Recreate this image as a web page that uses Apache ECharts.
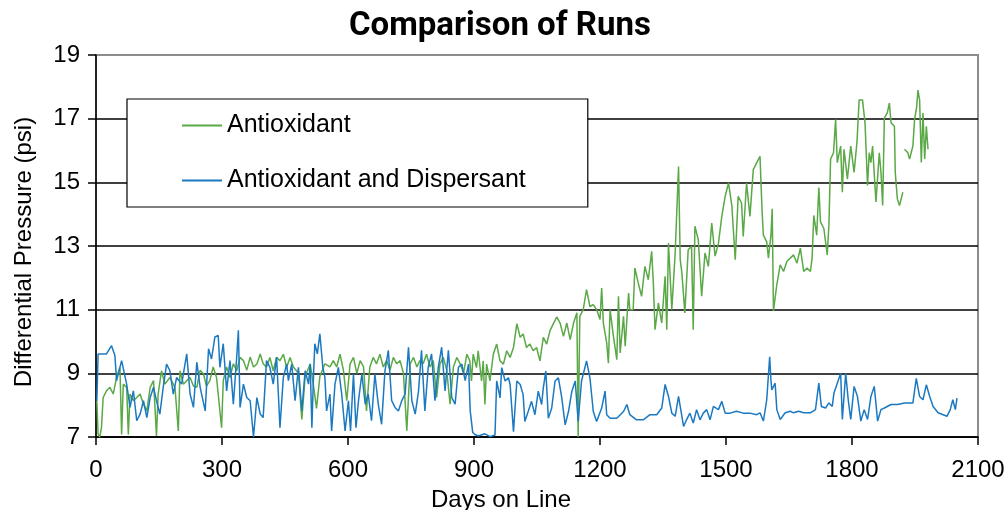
<!DOCTYPE html>
<html lang="en">

<head>
    <meta charset="UTF-8">
    <title>Comparison of Runs</title>
    <style>
        * {
            margin: 0;
            padding: 0;
        }

        #chart {
            width: 1008px;
            height: 510px;
        }
    </style>
</head>

<body>
    <div id="chart"></div>
</body>

</html>
<script src="https://cdn.jsdelivr.net/npm/echarts/dist/echarts.min.js"></script>
<script>

    // [days on line, differential pressure psi]
    const antioxidant = [
        [2, 8.14], [5, 7.08], [9, 7.0], [13, 7.29], [17, 8.24], [25, 8.45], [33, 8.56], [41, 8.35], [49, 8.87],
        [57, 9.19], [61, 7.08], [65, 8.66], [73, 8.56], [77, 7.08], [81, 8.35], [89, 8.14], [97, 8.24],
        [105, 8.35], [113, 8.03], [121, 7.82], [129, 8.56], [137, 8.77], [144, 7.03], [148, 8.35], [156, 9.08],
        [164, 8.66], [176, 8.87], [188, 8.56], [196, 7.19], [200, 9.08], [208, 8.66], [216, 8.77], [224, 8.87],
        [232, 8.6], [240, 8.56], [248, 9.1], [256, 8.98], [263, 8.6], [271, 8.77], [279, 9.2], [287, 8.87],
        [299, 7.29], [303, 8.77], [311, 9.2], [319, 8.87], [327, 9.3], [335, 9.08], [343, 9.5], [351, 9.40],
        [359, 9.1], [367, 9.51], [375, 9.2], [383, 9.29], [391, 9.61], [398, 9.3], [406, 9.19], [414, 9.5],
        [422, 9.08], [430, 9.5], [438, 9.40], [446, 9.6], [454, 9.19],
        [462, 9.5], [470, 9.2], [482, 9.0], [490, 7.55], [498, 8.9], [510, 9.3], [518, 8.6], [525, 7.9],
        [533, 8.9], [545, 9.3], [557, 9.2], [565, 9.4], [573, 9.2], [581, 9.6], [589, 9.1], [597, 8.14],
        [605, 9.3], [613, 9.5], [621, 9.0], [629, 9.4], [637, 9.2], [644, 7.82], [652, 9.2], [660, 9.5],
        [668, 9.3], [676, 9.6], [684, 9.2], [692, 9.4], [700, 9.1], [708, 9.5], [716, 9.3], [724, 9.4],
        [732, 9.0], [740, 7.2], [748, 9.3], [756, 9.5], [764, 9.2], [771, 9.4], [779, 9.3], [787, 9.6],
        [795, 9.2], [803, 9.4], [811, 8.24], [819, 9.3], [827, 9.5], [835, 9.1], [843, 8.03], [851, 9.2],
        [859, 9.5], [867, 9.3], [875, 9.0], [883, 9.6], [890, 9.4],
        [894, 8.76], [898, 9.60], [906, 9.18], [910, 9.71], [918, 8.76], [922, 9.39], [926, 8.02], [930, 9.29],
        [938, 8.76], [946, 9.60], [954, 9.92], [962, 9.39], [970, 9.29], [978, 9.71], [986, 9.50], [994, 9.81],
        [1002, 10.56], [1010, 10.13], [1017, 10.24], [1025, 9.81], [1033, 9.92], [1041, 9.71], [1049, 9.81],
        [1057, 9.39], [1065, 10.13], [1073, 9.92], [1081, 10.34], [1089, 10.56], [1097, 10.77],
        [1105, 10.58], [1113, 10.16], [1121, 10.58], [1129, 10.06], [1137, 10.58], [1145, 10.90], [1148, 7.0],
        [1152, 10.79], [1160, 11.0], [1168, 11.63], [1176, 11.10], [1184, 11.16], [1192, 11.0], [1200, 10.69],
        [1204, 11.68], [1208, 10.58], [1216, 9.95], [1220, 9.32], [1224, 11.0], [1232, 10.16], [1240, 9.43],
        [1244, 11.42], [1248, 9.64], [1256, 10.79], [1260, 9.85], [1268, 11.52], [1271, 11.0], [1279, 11.0],
        [1283, 12.31], [1291, 11.84], [1299, 11.42], [1307, 12.36], [1315, 11.94], [1323, 12.83], [1327, 11.84],
        [1331, 10.37], [1339, 11.21], [1347, 10.58], [1355, 12.05], [1359, 10.37], [1363, 13.09], [1371, 11.0],
        [1379, 12.78], [1387, 15.50], [1391, 12.57], [1395, 12.15], [1402, 10.90], [1410, 12.88], [1418, 12.99],
        [1422, 10.37], [1426, 13.62], [1434, 13.20], [1442, 11.42], [1450, 12.78], [1458, 12.36], [1466, 13.72],
        [1474, 12.68], [1482, 13.09], [1490, 13.93], [1498, 14.56], [1506, 14.98], [1514, 14.25], [1522, 12.57],
        [1529, 14.56], [1537, 14.35], [1541, 13.30], [1549, 14.98], [1557, 13.93], [1565, 15.40], [1573, 15.61],
        [1581, 15.82], [1583, 15.10], [1586, 14.07], [1589, 13.34], [1597, 13.13], [1601, 12.62], [1607, 13.34],
        [1610, 14.17], [1613, 10.96], [1621, 11.79], [1629, 12.41], [1637, 12.20], [1645, 12.51], [1653, 12.62],
        [1661, 12.72], [1669, 12.46], [1677, 12.93], [1685, 12.20], [1693, 12.31], [1701, 12.20], [1705, 12.62],
        [1709, 13.96], [1716, 13.34], [1721, 14.84], [1725, 13.76], [1733, 13.55], [1741, 12.72], [1745, 13.65],
        [1749, 15.73], [1756, 15.93], [1761, 16.97], [1765, 15.62], [1773, 16.14], [1777, 14.69], [1781, 16.04],
        [1789, 15.10], [1797, 16.14], [1805, 15.31], [1812, 16.30], [1817, 17.59], [1825, 17.59], [1831, 16.87],
        [1837, 14.90], [1841, 15.93], [1845, 15.62], [1849, 16.14], [1857, 14.38], [1865, 15.93], [1869, 15.31],
        [1873, 14.27], [1877, 17.02], [1884, 17.18], [1889, 17.49], [1893, 16.87], [1901, 16.76], [1903, 15.31],
        [1908, 14.48], [1913, 14.27], [1921, 14.69], [1923, null],
        [1925, 16.04], [1933, 15.93], [1937, 15.73], [1941, 15.78], [1945, 16.14], [1949, 16.97], [1954, 17.38],
        [1957, 17.90], [1961, 17.59], [1965, 15.62], [1969, 17.18], [1973, 15.73], [1977, 16.76], [1981, 16.04]
    ];

    const dispersant = [
        [2, 8.14], [5, 9.61], [25, 9.61], [37, 9.87], [45, 9.56], [49, 8.77], [61, 9.40], [65, 9.45], [73, 8.66],
        [81, 7.93], [89, 8.45], [97, 7.51], [105, 7.72], [113, 8.14], [121, 7.61], [129, 8.24], [137, 8.56],
        [144, 8.14], [152, 7.72], [160, 8.56], [168, 9.29], [176, 9.08], [184, 8.35], [192, 8.87], [204, 8.66],
        [216, 9.61], [224, 8.35], [232, 7.93], [240, 9.35], [248, 8.56], [260, 7.82], [268, 9.77], [275, 9.45],
        [283, 10.14], [291, 10.19], [295, 9.19], [303, 9.93], [311, 8.45], [319, 9.40], [327, 8.03], [335, 9.51],
        [339, 10.35], [343, 7.93], [351, 8.66], [359, 8.24], [367, 8.14], [375, 7.0], [383, 8.24], [391, 7.72],
        [398, 7.61], [406, 9.40], [414, 9.19], [422, 8.66], [430, 9.51], [438, 7.29], [446, 8.87], [454, 9.29],
        [458, 8.77], [466, 9.29], [474, 8.14], [482, 9.19], [490, 7.82], [498, 9.08], [506, 8.66], [510, 9.29],
        [514, 7.29], [518, 8.98], [521, 9.93], [527, 9.61], [533, 10.24], [540, 9.19], [545, 8.87], [549, 7.82],
        [557, 8.35], [561, 7.19], [569, 8.66], [577, 9.19], [585, 8.35], [593, 7.19], [601, 8.14], [606, 7.19],
        [613, 8.98], [619, 7.29], [625, 8.14], [633, 8.98], [641, 8.03], [648, 8.35], [656, 7.51], [664, 8.98],
        [672, 8.03], [680, 7.40], [688, 9.08], [696, 9.72], [704, 8.14], [712, 7.93], [720, 7.82], [728, 8.14],
        [736, 8.35], [744, 9.82], [752, 8.14], [760, 7.72], [768, 8.45], [775, 9.72], [783, 7.82], [791, 9.19],
        [799, 9.61], [807, 8.14], [815, 9.19], [823, 9.82], [831, 8.45], [839, 9.72], [847, 8.24], [855, 8.03],
        [863, 9.19], [871, 9.29], [879, 8.77], [887, 9.29], [891, 7.82], [897, 7.14], [902, 7.08], [910, 7.03],
        [914, 7.01], [926, 7.1], [938, 7.01], [950, 7.06], [954, 8.76], [962, 8.23], [966, 9.18], [974, 8.76],
        [982, 8.86], [986, 8.65], [990, 7.91], [994, 7.17], [1002, 8.76], [1010, 8.65], [1017, 8.33], [1021, 7.49],
        [1029, 7.80], [1037, 8.12], [1045, 7.70], [1053, 8.44], [1061, 8.02], [1065, 8.54], [1071, 9.07],
        [1077, 7.59], [1085, 7.91], [1093, 8.76], [1101, 8.86], [1109, 8.23], [1117, 7.38], [1125, 7.80],
        [1133, 8.44], [1141, 8.76], [1148, 7.49], [1156, 8.76], [1164, 9.18], [1168, 9.39], [1176, 8.86],
        [1184, 7.80], [1192, 7.49], [1204, 7.91], [1212, 8.44], [1216, 7.70], [1224, 7.59], [1240, 7.59],
        [1256, 7.80], [1264, 8.02], [1271, 7.70], [1287, 7.54], [1303, 7.54], [1319, 7.70], [1335, 7.70],
        [1347, 7.91], [1355, 8.65], [1363, 8.28], [1371, 7.75], [1379, 7.65], [1387, 8.28], [1395, 7.65],
        [1399, 7.33], [1406, 7.54], [1414, 7.75], [1422, 7.44], [1430, 7.86], [1438, 7.54], [1446, 7.75],
        [1454, 7.86], [1462, 7.54], [1470, 7.96], [1482, 7.86], [1490, 8.12], [1498, 7.75], [1510, 7.75],
        [1525, 7.81], [1541, 7.75], [1557, 7.75], [1573, 7.70], [1581, 7.76], [1589, 7.50], [1597, 8.17],
        [1604, 9.52], [1607, 8.79], [1609, 8.48], [1617, 8.69], [1621, 7.86], [1629, 7.55], [1641, 7.76],
        [1653, 7.81], [1661, 7.76], [1673, 7.81], [1685, 7.76], [1701, 7.76], [1713, 7.86], [1721, 8.69],
        [1727, 7.96], [1737, 7.91], [1745, 8.07], [1753, 7.96], [1757, 8.38], [1765, 8.69], [1773, 9.0],
        [1777, 7.55], [1785, 9.0], [1791, 8.17], [1797, 7.55], [1805, 8.59], [1813, 8.27], [1821, 7.50],
        [1829, 7.86], [1837, 7.55], [1845, 8.27], [1853, 8.59], [1861, 7.50], [1869, 7.86], [1877, 7.91],
        [1893, 8.02], [1909, 8.02], [1925, 8.07], [1945, 8.07], [1953, 8.84], [1961, 8.27], [1969, 8.17],
        [1977, 8.64], [1985, 8.27], [1993, 7.96], [2005, 7.76], [2017, 7.70], [2026, 7.65], [2034, 7.86],
        [2040, 8.17], [2046, 7.86], [2050, 8.22]
    ];

    const seriesNames = ['Antioxidant', 'Antioxidant and Dispersant'];
    const seriesColors = ['#5aa846', '#1b79c2'];

    var myChart = echarts.init(document.getElementById('chart'));
    var font = "'Liberation Sans', Arial, sans-serif";

    myChart.setOption({
        backgroundColor: '#fff',
        animation: false,
        title: {
            text: 'Comparison of Runs',
            left: 344,
            top: 5,
            textStyle: {
                fontFamily: 'Roboto',
                fontWeight: 'bold',
                fontSize: 33,
                color: '#000'
            }
        },
        legend: {
            orient: 'vertical',
            left: 127,
            top: 99,
            padding: [14, 62, 14, 55],
            itemGap: 30,
            itemWidth: 40,
            itemHeight: 2,
            icon: 'rect',
            borderColor: '#000',
            borderWidth: 1.2,
            backgroundColor: '#fff',
            textStyle: { fontFamily: font, fontSize: 25, color: '#000' },
            data: seriesNames
        },
        grid: {
            left: 96,
            right: 30,
            top: 55,
            bottom: 73,
            containLabel: false,
            outerBoundsMode: 'none',
            show: true,
            borderColor: '#8c8c8c',
            borderWidth: 2
        },
        xAxis: {
            type: 'value',
            min: 0,
            max: 2100,
            interval: 300,
            name: 'Days on Line',
            nameLocation: 'middle',
            nameGap: 51,
            nameTextStyle: { fontFamily: font, fontSize: 24, color: '#000', padding: [0, 72, 0, 0] },
            axisLine: { lineStyle: { color: '#000', width: 1.5 } },
            axisTick: { length: 8, lineStyle: { color: '#000', width: 1.5 } },
            axisLabel: {
                fontFamily: font, fontSize: 24, color: '#000', margin: 21,
                formatter: function (v) { return String(v); }
            },
            splitLine: { show: false }
        },
        yAxis: {
            type: 'value',
            min: 7,
            max: 19,
            interval: 2,
            name: 'Differential Pressure (psi)',
            nameLocation: 'middle',
            nameGap: 60,
            nameTextStyle: { fontFamily: font, fontSize: 24, color: '#000', padding: [0, 12, 0, 0] },
            axisLine: { show: true, lineStyle: { color: '#000', width: 1.5 } },
            axisTick: { show: true, length: 8, lineStyle: { color: '#000', width: 1.5 } },
            axisLabel: { fontFamily: font, fontSize: 24, color: '#000', margin: 16 },
            splitLine: {
                lineStyle: {
                    color: ['#000', '#000', '#000', '#000', '#000', '#000', '#8c8c8c'],
                    width: 1.5
                }
            }
        },
        series: [{
            name: seriesNames[0],
            type: 'line',
            data: antioxidant,
            showSymbol: false,
            connectNulls: false,
            color: seriesColors[0],
            lineStyle: { width: 1.5 }
        }, {
            name: seriesNames[1],
            type: 'line',
            data: dispersant,
            showSymbol: false,
            color: seriesColors[1],
            lineStyle: { width: 1.5 }
        }]
    });

</script>
